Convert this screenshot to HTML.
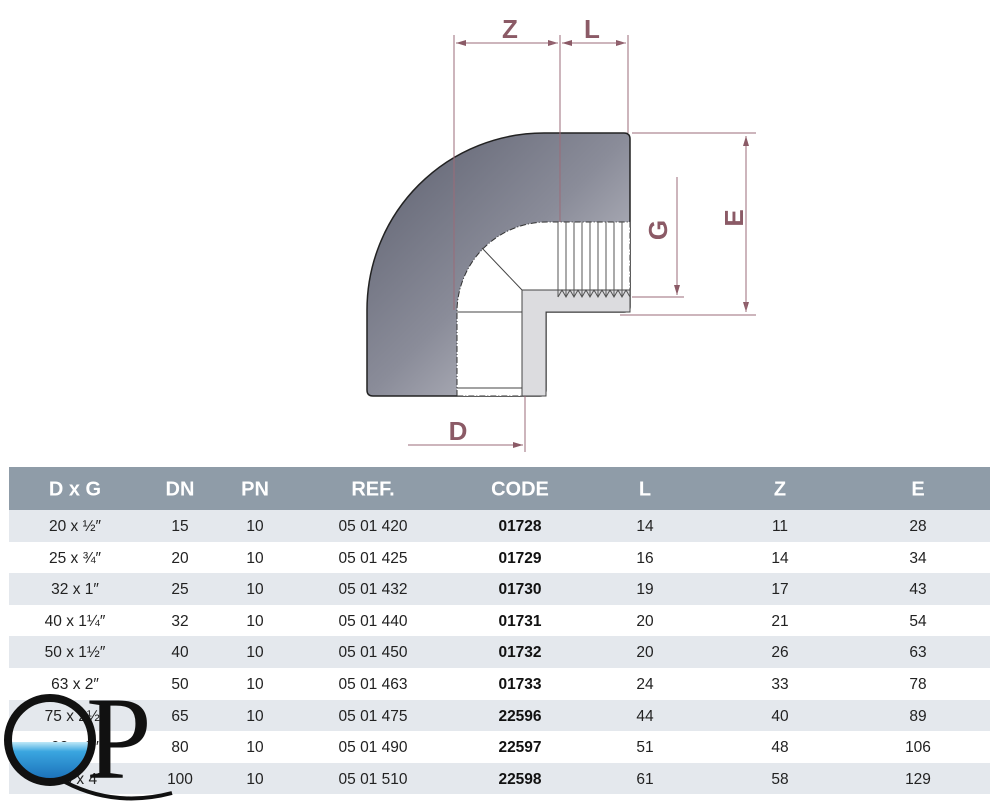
<!DOCTYPE html>
<html><head><meta charset="utf-8"><style>
body{margin:0;width:1000px;height:805px;background:#fff;position:relative;overflow:hidden;font-family:"Liberation Sans",sans-serif}
.t{position:absolute;left:9px;top:467px;width:981px}
.h{height:43px;background:#8f9ca8;position:relative;color:#fff;font-weight:bold;font-size:20px}
.r{height:31.6px;position:relative;font-size:15.5px;color:#222}
.c{position:absolute;top:54%;transform:translate(-50%,-50%);white-space:nowrap}
.b{font-weight:bold;color:#111}
</style></head><body>
<svg width="1000" height="460" style="position:absolute;left:0;top:0">
<defs>
<linearGradient id="g" x1="0" y1="0" x2="1" y2="1">
<stop offset="0" stop-color="#5c5f6e"/><stop offset="0.5" stop-color="#8a8c99"/><stop offset="1" stop-color="#d6d6dc"/>
</linearGradient>
<marker id="a" markerWidth="10" markerHeight="8" refX="10" refY="4" orient="auto" markerUnits="userSpaceOnUse"><path d="M0,1 L10,4 L0,7z" fill="#8b5a66"/></marker>
</defs>
<path d="M367,390 L367,310 A177,177 0 0 1 544,133 L624,133 Q630,133 630,139 L630,307 Q630,312 624,312 L546,312 L546,390 Q546,396 540,396 L373,396 Q367,396 367,390 Z" fill="url(#g)" stroke="#222" stroke-width="1.5"/>
<path d="M457,396 L457,312 A90,90 0 0 1 547,222 L630,222 L630,290 L522,290 L522,396 Z" fill="#fff" stroke="#333" stroke-width="1" stroke-dasharray="6,2,1,2"/>
<path d="M522,290 L630,290 L630,312 L546,312 L546,396 L522,396 Z" fill="#dcdcdf" stroke="#444" stroke-width="1"/>
<line x1="457" y1="312" x2="522" y2="312" stroke="#444"/>
<line x1="457" y1="388" x2="522" y2="388" stroke="#444"/>
<line x1="482" y1="248" x2="522" y2="290" stroke="#444"/>
<g stroke="#555" stroke-width="1">
<line x1="558" y1="222" x2="558" y2="297"/><line x1="566" y1="222" x2="566" y2="297"/><line x1="574" y1="222" x2="574" y2="297"/><line x1="582" y1="222" x2="582" y2="297"/><line x1="590" y1="222" x2="590" y2="297"/><line x1="598" y1="222" x2="598" y2="297"/><line x1="606" y1="222" x2="606" y2="297"/><line x1="614" y1="222" x2="614" y2="297"/><line x1="622" y1="222" x2="622" y2="297"/>
<polyline fill="none" points="558,297 562,290 566,297 570,290 574,297 578,290 582,297 586,290 590,297 594,290 598,297 602,290 606,297 610,290 614,297 618,290 622,297 626,290 630,297"/>
</g>
<g stroke="#9b6b78" stroke-width="1" fill="none">
<line x1="454" y1="35" x2="454" y2="310"/>
<line x1="560" y1="35" x2="560" y2="222"/>
<line x1="628" y1="35" x2="628" y2="133"/>
<line x1="456" y1="43" x2="558" y2="43" marker-end="url(#a)"/>
<line x1="558" y1="43" x2="456" y2="43" marker-end="url(#a)"/>
<line x1="562" y1="43" x2="626" y2="43" marker-end="url(#a)"/>
<line x1="626" y1="43" x2="562" y2="43" marker-end="url(#a)"/>
<line x1="632" y1="133" x2="756" y2="133"/>
<line x1="620" y1="315" x2="756" y2="315"/>
<line x1="746" y1="136" x2="746" y2="312" marker-end="url(#a)"/>
<line x1="746" y1="312" x2="746" y2="136" marker-end="url(#a)"/>
<line x1="632" y1="297" x2="684" y2="297"/>
<line x1="677" y1="177" x2="677" y2="295" marker-end="url(#a)"/>
<line x1="525" y1="396" x2="525" y2="452"/>
<line x1="408" y1="445" x2="523" y2="445" marker-end="url(#a)"/>
</g>
<g fill="#8b5a66" font-family="Liberation Sans" font-size="26" font-weight="bold">
<text x="510" y="38" text-anchor="middle">Z</text>
<text x="592" y="38" text-anchor="middle">L</text>
<text x="458" y="440" text-anchor="middle">D</text>
<text transform="translate(667,230) rotate(-90)" text-anchor="middle">G</text>
<text transform="translate(743,218) rotate(-90)" text-anchor="middle">E</text>
</g>
</svg>
<div class="t">
<div class="h"><span class="c" style="left:66px">D x G</span><span class="c" style="left:171px">DN</span><span class="c" style="left:246px">PN</span><span class="c" style="left:364px">REF.</span><span class="c" style="left:511px">CODE</span><span class="c" style="left:636px">L</span><span class="c" style="left:771px">Z</span><span class="c" style="left:909px">E</span></div>
<div id="rows"></div>
</div>
<script>
var d=[["20 x ½″","15","05 01 420","01728","14","11","28"],["25 x ¾″","20","05 01 425","01729","16","14","34"],["32 x 1″","25","05 01 432","01730","19","17","43"],["40 x 1¼″","32","05 01 440","01731","20","21","54"],["50 x 1½″","40","05 01 450","01732","20","26","63"],["63 x 2″","50","05 01 463","01733","24","33","78"],["75 x 2½″","65","05 01 475","22596","44","40","89"],["90 x 3″","80","05 01 490","22597","51","48","106"],["110 x 4″","100","05 01 510","22598","61","58","129"]];
var h="";d.forEach(function(r,i){h+='<div class="r" style="background:'+(i%2==0?'#e4e8ed':'#fff')+'"><span class="c" style="left:66px">'+r[0]+'</span><span class="c" style="left:171px">'+r[1]+'</span><span class="c" style="left:246px">10</span><span class="c" style="left:364px">'+r[2]+'</span><span class="c b" style="left:511px">'+r[3]+'</span><span class="c" style="left:636px">'+r[4]+'</span><span class="c" style="left:771px">'+r[5]+'</span><span class="c" style="left:909px">'+r[6]+'</span></div>'});
document.getElementById("rows").innerHTML=h;
</script>
<svg width="180" height="115" style="position:absolute;left:0;top:690px">
<defs><linearGradient id="w" x1="0" y1="0" x2="0" y2="1"><stop offset="0" stop-color="#bfe8f7"/><stop offset="0.25" stop-color="#3aa6e0"/><stop offset="1" stop-color="#1a6fb8"/></linearGradient></defs>
<path d="M12,52 A38,38 0 0 0 88,52 Z" fill="url(#w)"/>
<circle cx="50" cy="50" r="42" fill="none" stroke="#111" stroke-width="8"/>
<path d="M65,92 Q115,118 172,103" fill="none" stroke="#111" stroke-width="4"/>
<text x="86" y="88" font-family="Liberation Serif" font-size="118" fill="#111">P</text>
</svg>
</body></html>
